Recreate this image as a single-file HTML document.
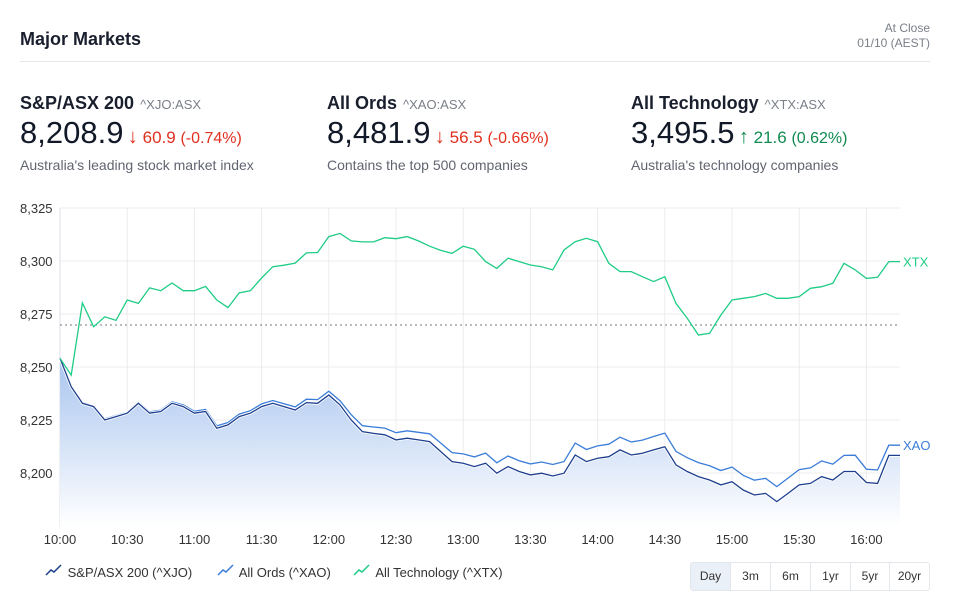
<!DOCTYPE html>
<html><head><meta charset="utf-8">
<style>
body{margin:0;width:957px;height:602px;background:#fff;font-family:"Liberation Sans",sans-serif;color:#1a1f2e;position:relative;overflow:hidden}
.abs{position:absolute;white-space:nowrap}
.title{font-size:18px;font-weight:bold}
.tick{font-size:13px;color:#7a7f88;font-weight:normal;margin-left:6px}
.price{font-size:31px;color:#111827}
.down{color:#e0301e;font-size:17px}
.up{color:#0f8a4f;font-size:17px}
.arr{font-weight:bold;font-size:20px}
.desc{font-size:14px;color:#60656f}
.btn{display:inline-block;height:27px;line-height:27px;font-size:12px;color:#333;text-align:center;border-right:1px solid #e3e6ea}
</style></head><body>
<div class="abs title" style="left:20px;top:29px">Major Markets</div>
<div class="abs" style="right:27px;top:21px;text-align:right;font-size:12px;color:#7a7f88;line-height:15px">At Close<br>01/10 (AEST)</div>
<div class="abs" style="left:20px;top:61px;width:910px;height:1px;background:#e5e7eb"></div>

<div class="abs" style="left:20px;top:93px">
 <div class="title">S&amp;P/ASX 200<span class="tick">^XJO:ASX</span></div>
 <div style="margin-top:1px"><span class="price">8,208.9</span> <span class="down"><span class="arr">&#8595;</span> 60.9 <span style="font-size:16px">(-0.74%)</span></span></div>
 <div class="desc" style="margin-top:6px">Australia's leading stock market index</div>
</div>
<div class="abs" style="left:327px;top:93px">
 <div class="title">All Ords<span class="tick">^XAO:ASX</span></div>
 <div style="margin-top:1px"><span class="price">8,481.9</span> <span class="down"><span class="arr">&#8595;</span> 56.5 <span style="font-size:16px">(-0.66%)</span></span></div>
 <div class="desc" style="margin-top:6px">Contains the top 500 companies</div>
</div>
<div class="abs" style="left:631px;top:93px">
 <div class="title">All Technology<span class="tick">^XTX:ASX</span></div>
 <div style="margin-top:1px"><span class="price">3,495.5</span> <span class="up"><span class="arr">&#8593;</span> 21.6 <span style="font-size:16px">(0.62%)</span></span></div>
 <div class="desc" style="margin-top:6px">Australia's technology companies</div>
</div>

<svg class="abs" style="left:0;top:0" width="957" height="602" id="chart"></svg>

<div class="abs" style="left:44px;top:563px;font-size:13px;color:#333">
 <span><svg width="20" height="14"><polyline points="2,12 7,7 10,9 17,2" fill="none" stroke="#1e3f8f" stroke-width="1.5"/></svg> S&amp;P/ASX 200 (^XJO)</span>
 <span style="margin-left:20px"><svg width="20" height="14"><polyline points="2,12 7,7 10,9 17,2" fill="none" stroke="#3b7dd8" stroke-width="1.5"/></svg> All Ords (^XAO)</span>
 <span style="margin-left:18px"><svg width="20" height="14"><polyline points="2,12 7,7 10,9 17,2" fill="none" stroke="#1fcc85" stroke-width="1.5"/></svg> All Technology (^XTX)</span>
</div>
<div class="abs" style="left:690px;top:562px;border:1px solid #e3e6ea;border-radius:3px;height:27px;display:flex">
 <span class="btn" style="width:39px;background:#eaf0f8">Day</span>
 <span class="btn" style="width:39px">3m</span>
 <span class="btn" style="width:39px">6m</span>
 <span class="btn" style="width:39px">1yr</span>
 <span class="btn" style="width:38px">5yr</span>
 <span class="btn" style="width:39px;border-right:none">20yr</span>
</div>

<script>
const timeLabels=["10:00","10:30","11:00","11:30","12:00","12:30","13:00","13:30","14:00","14:30","15:00","15:30","16:00"];
const yTicks=[8200,8225,8250,8275,8300,8325];
const prevClose=8269.8;
const xtx=[8254.1,8246.2,8280.2,8269,8273.7,8272,8281.6,8280,8287.3,8286,8289.6,8286,8286,8288,8281.6,8278,8285,8286,8292,8297.3,8298,8299,8303.8,8304,8311.5,8313,8309.5,8309,8309,8311,8310.5,8311.5,8309.5,8307,8305,8303.6,8307,8305.5,8299.7,8296.5,8301.3,8299.7,8298.1,8297.3,8295.8,8305.2,8309.1,8310.7,8309.1,8298.9,8295,8295,8292.6,8290.3,8292.6,8280,8273,8265.1,8265.9,8274.5,8281.6,8282.4,8283.2,8284.7,8282.4,8282.4,8283.2,8287.1,8287.9,8289.5,8298.9,8295.8,8291.8,8292.3,8299.7,8299.7];
const xjo=[8254.1,8240.7,8232.9,8231.3,8225,8226.6,8228.2,8232.9,8228.2,8229,8232.9,8231.3,8228.2,8229,8221.1,8222.7,8226.6,8228.2,8231.3,8232.9,8231.3,8229.7,8233.2,8232.9,8236.8,8232.1,8225,8219.5,8218.7,8218,8215.6,8216.4,8215.6,8214.8,8210.1,8205.4,8204.6,8203,8204.6,8199.9,8203,8200.7,8199.1,8199.9,8198.6,8199.9,8208.5,8205.4,8207,8207.7,8210.9,8208.5,8209.3,8210.9,8212.4,8203.8,8200.7,8198.3,8196.7,8194.4,8195.9,8192,8189.6,8190.4,8186.5,8190.4,8194.4,8195.1,8198.3,8196.7,8200.7,8200.7,8195.5,8195.1,8208.3,8208.3];
const xao=[8254.1,8241,8233.3,8231.7,8225.5,8227.1,8228.7,8233.4,8228.8,8229.6,8233.6,8232.1,8229.1,8230,8222.2,8223.8,8227.8,8229.4,8232.6,8234.2,8232.7,8231.2,8234.8,8234.6,8238.6,8234.1,8227.5,8222.3,8221.7,8221.2,8219,8219.9,8219.2,8218.5,8214.1,8209.6,8209,8207.6,8209.4,8204.8,8208,8205.8,8204.3,8205.2,8204,8205.4,8214.1,8211.1,8212.8,8213.6,8216.9,8214.6,8215.5,8217.2,8218.8,8210.2,8207.2,8204.9,8203.4,8201.2,8202.8,8198.9,8196.6,8197.5,8193.6,8197.6,8201.6,8202.4,8205.7,8204.2,8208.3,8208.4,8201.8,8201.4,8213.1,8213.1];

const svg=document.getElementById('chart');
const NS='http://www.w3.org/2000/svg';
const X0=60,X1=900,Y0=527;
const xs=i=>X0+(X1-X0)*i/75;
const ys=v=>208+(8325-v)*53/25;
function mk(t,a){const e=document.createElementNS(NS,t);for(const k in a)e.setAttribute(k,a[k]);svg.appendChild(e);return e;}
const defs=mk('defs',{});
defs.innerHTML='<linearGradient id="g" x1="0" y1="0" x2="0" y2="1"><stop offset="0" stop-color="#a9c5ef"/><stop offset="1" stop-color="#ffffff"/></linearGradient>';
yTicks.forEach(v=>{
 const l=mk('line',{x1:X0,x2:X1,y1:ys(v),y2:ys(v),stroke:'#ececef'});
 
 
 const t=mk('text',{x:20,y:ys(v)+5,'font-size':13,fill:'#333','font-family':'Liberation Sans, sans-serif'});
 t.textContent=v.toLocaleString('en-US');
 
 
});
timeLabels.forEach((s,i)=>{
 const x=xs(i*6);
 const l=mk('line',{x1:x,x2:x,y1:208,y2:Y0,stroke:'#ececef'});
 
 
 const t=mk('text',{x:x,y:544,'font-size':13,fill:'#333','text-anchor':'middle','font-family':'Liberation Sans, sans-serif'});
 t.textContent=s;
 
 
});
const ax=mk('line',{x1:X0,x2:X0,y1:208,y2:Y0,stroke:'#dcdfe4'});


const pts=a=>a.map((v,i)=>xs(i).toFixed(1)+','+ys(v).toFixed(1)).join(' ');
const area=mk('polygon',{points:X0+','+Y0+' '+pts(xjo)+' '+X1+','+Y0,fill:'url(#g)'});


const dash=mk('line',{x1:X0,x2:X1,y1:ys(prevClose),y2:ys(prevClose),stroke:'#777','stroke-dasharray':'2,3'});


[[xao,'#3b7dd8','xao-line'],[xjo,'#1e3f8f','xjo-line'],[xtx,'#1fcc85','xtx-line']].forEach(([a,c,n])=>{
 if(n!=='xtx-line') mk('polyline',{points:pts(a),fill:'none',stroke:'#fff','stroke-width':3});
 const p=mk('polyline',{points:pts(a),fill:'none',stroke:c,'stroke-width':1.3});
 
 
});
const l1=mk('text',{x:903,y:ys(xtx[75])+5,'font-size':13,fill:'#1fcc85','font-family':'Liberation Sans, sans-serif'});
l1.textContent='XTX';


const l2=mk('text',{x:903,y:ys(xao[75])+5,'font-size':13,fill:'#3b7dd8','font-family':'Liberation Sans, sans-serif'});
l2.textContent='XAO';


</script>
</body></html>
